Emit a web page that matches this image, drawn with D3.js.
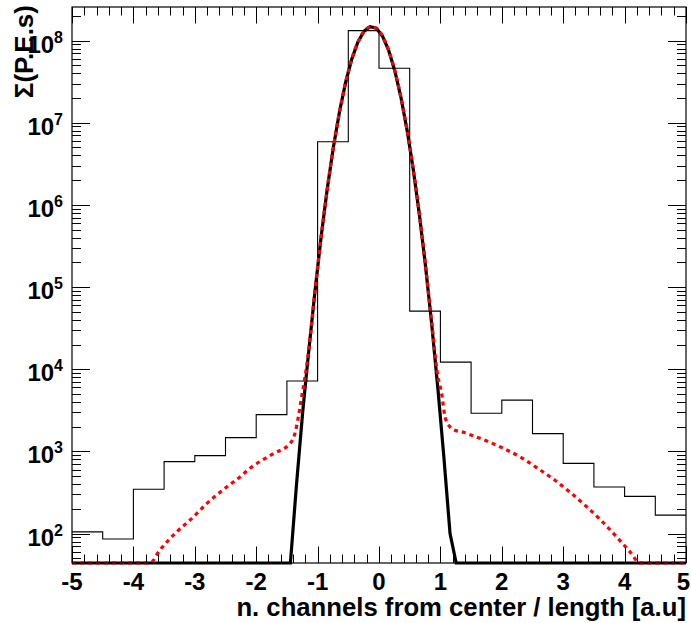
<!DOCTYPE html>
<html>
<head>
<meta charset="utf-8">
<script src="https://cdn.jsdelivr.net/npm/d3@7"></script>
<style>
  body { margin: 0; background: #fff; }
  svg text { font-family: "Liberation Sans", Arial, Helvetica, sans-serif; font-weight: bold; fill: #000; }
</style>
</head>
<body>
<div id="chart"></div>
<script>
// histogram: 20 bins of width 0.5
const binEdges = [-5, -4.5, -4, -3.5, -3, -2.5, -2, -1.5, -1, -0.5, 0, 0.5, 1, 1.5, 2, 2.5, 3, 3.5, 4, 4.5, 5];
const binCounts = [105, 86, 346, 751, 890, 1472, 2806, 7195, 5.86e6, 1.32e8, 4.6e7, 5.1e4, 1.22e4, 2911, 4217, 1649, 716, 369, 284, 168];

// narrow component (black solid)
const coreX = [-5, -1.443, -1.343, -1.243, -1.143, -1.043, -0.943, -0.843, -0.743, -0.643, -0.543, -0.443, -0.343, -0.243, -0.143,
  -0.043, 0.057, 0.157, 0.257, 0.357, 0.457, 0.557, 0.657, 0.757, 0.857, 0.957, 1.057, 1.157, 1.257, 5];
const coreVal = [1, 35, 400, 3000, 17000, 88300, 4.05e5, 1.56e6, 5.02e6, 1.36e7, 3.11e7, 5.96e7, 9.59e7, 1.30e8, 1.47e8,
  1.41e8, 1.13e8, 7.59e7, 4.29e7, 2.04e7, 8.13e6, 2.73e6, 7.69e5, 1.82e5, 36100, 6040, 847, 100, 9.9, 1];

// total fit (red dotted)
const totalX = [-5, -3.73, -3.57, -3.295, -3.025, -2.806, -2.48, -2.264, -2.128, -1.72, -1.45, -1.37, -1.314, -1.26, -1.205,
  -1.143, -1.043, -0.943, -0.843, -0.743, -0.643, -0.543, -0.443, -0.343, -0.243, -0.143, -0.043, 0.057, 0.157, 0.257,
  0.357, 0.457, 0.557, 0.657, 0.757, 0.857, 0.957, 1.021, 1.075, 1.156, 1.21, 1.373, 1.482, 1.754, 2.025, 2.324, 2.595,
  2.866, 3.165, 3.382, 3.627, 3.871, 4.088, 4.25, 5];
const totalVal = [1, 44, 63, 105, 159, 232, 369, 489, 601, 940, 1245, 1650, 2630, 4600, 8040,
  17500, 90000, 4.06e5, 1.56e6, 5.02e6, 1.36e7, 3.11e7, 5.96e7, 9.59e7, 1.30e8, 1.47e8, 1.41e8, 1.13e8, 7.59e7, 4.29e7,
  2.04e7, 8.13e6, 2.73e6, 7.7e5, 1.84e5, 38000, 8300, 5040, 2630, 1985, 1840, 1710, 1600, 1340, 1090, 835, 615,
  445, 295, 212, 142, 91, 60, 44, 1];

const xLabel = "n. channels from center / length [a.u]";
const yLabel = "\u03a3(P.E.s)";

const W = 691, H = 623;
const margin = { top: 7, right: 5, bottom: 60, left: 72 };
const width = W - margin.left - margin.right;
const height = H - margin.top - margin.bottom;

const svg = d3.select("#chart").append("svg")
  .attr("width", W)
  .attr("height", H);

const g = svg.append("g")
  .attr("transform", `translate(${margin.left},${margin.top})`);

const x = d3.scaleLinear().domain([-5, 5]).range([0, width]);
const y = d3.scaleLog().domain([43.9, 2.56e8]).range([height, 0]).clamp(true);

// histogram outline
const histPts = [];
binCounts.forEach((v, i) => {
  histPts.push([x(binEdges[i]), y(v)]);
  histPts.push([x(binEdges[i + 1]), y(v)]);
});
g.append("path")
  .attr("d", d3.line()(histPts))
  .attr("fill", "none")
  .attr("stroke", "#000")
  .attr("stroke-width", 1.1);

const line = d3.line().x(d => x(d[0])).y(d => y(d[1]));

g.append("path")
  .attr("d", line(coreX.map((v, i) => [v, coreVal[i]])))
  .attr("fill", "none")
  .attr("stroke", "#000")
  .attr("stroke-width", 3.2);

g.append("path")
  .attr("d", line.curve(d3.curveMonotoneX)(totalX.map((v, i) => [v, totalVal[i]])))
  .attr("fill", "none")
  .attr("stroke", "#ff0000")
  .attr("stroke-width", 3.2)
  .attr("stroke-dasharray", "4,4");

// frame
g.append("rect")
  .attr("width", width)
  .attr("height", height)
  .attr("fill", "none")
  .attr("stroke", "#000")
  .attr("stroke-width", 1.2);

// ticks (inside, ROOT style)
const ticks = g.append("g").attr("stroke", "#000").attr("stroke-width", 1);
const xMajor = x.ticks(10);
x.ticks(50).forEach(t => {
  const len = xMajor.some(m => Math.abs(m - t) < 1e-9) ? 16.5 : 8.5;
  const px = Math.round(x(t)) + 0.5;
  ticks.append("line").attr("x1", px).attr("x2", px).attr("y1", height).attr("y2", height - len);
  ticks.append("line").attr("x1", px).attr("x2", px).attr("y1", 0).attr("y2", len);
});
const isDecade = t => Math.abs(Math.log10(t) - Math.round(Math.log10(t))) < 1e-9;
y.ticks().forEach(t => {
  const len = isDecade(t) ? 18 : 9;
  const py = Math.round(y(t)) + 0.5;
  ticks.append("line").attr("x1", 0).attr("x2", len).attr("y1", py).attr("y2", py);
  ticks.append("line").attr("x1", width).attr("x2", width - len).attr("y1", py).attr("y2", py);
});

// tick labels (last one kept inside the page)
xMajor.forEach((t, i) => {
  const last = i === xMajor.length - 1;
  g.append("text")
    .attr("x", last ? width + 4 : x(t))
    .attr("y", height + 27)
    .attr("text-anchor", last ? "end" : "middle")
    .style("font-size", "24px")
    .text(t);
});
y.ticks().filter(isDecade).forEach(t => {
  const txt = g.append("text")
    .attr("x", -9)
    .attr("y", y(t) + 12)
    .attr("text-anchor", "end")
    .style("font-size", "24px");
  txt.append("tspan").text("10");
  txt.append("tspan")
    .attr("dy", -10)
    .style("font-size", "16px")
    .text(Math.round(Math.log10(t)));
});

// axis titles
svg.append("text")
  .attr("x", margin.left + width)
  .attr("y", 616)
  .attr("text-anchor", "end")
  .style("font-size", "25.7px")
  .text(xLabel);

svg.append("text")
  .attr("transform", "translate(33,5) rotate(-90)")
  .attr("text-anchor", "end")
  .style("font-size", "26px")
  .text(yLabel);
</script>
</body>
</html>
